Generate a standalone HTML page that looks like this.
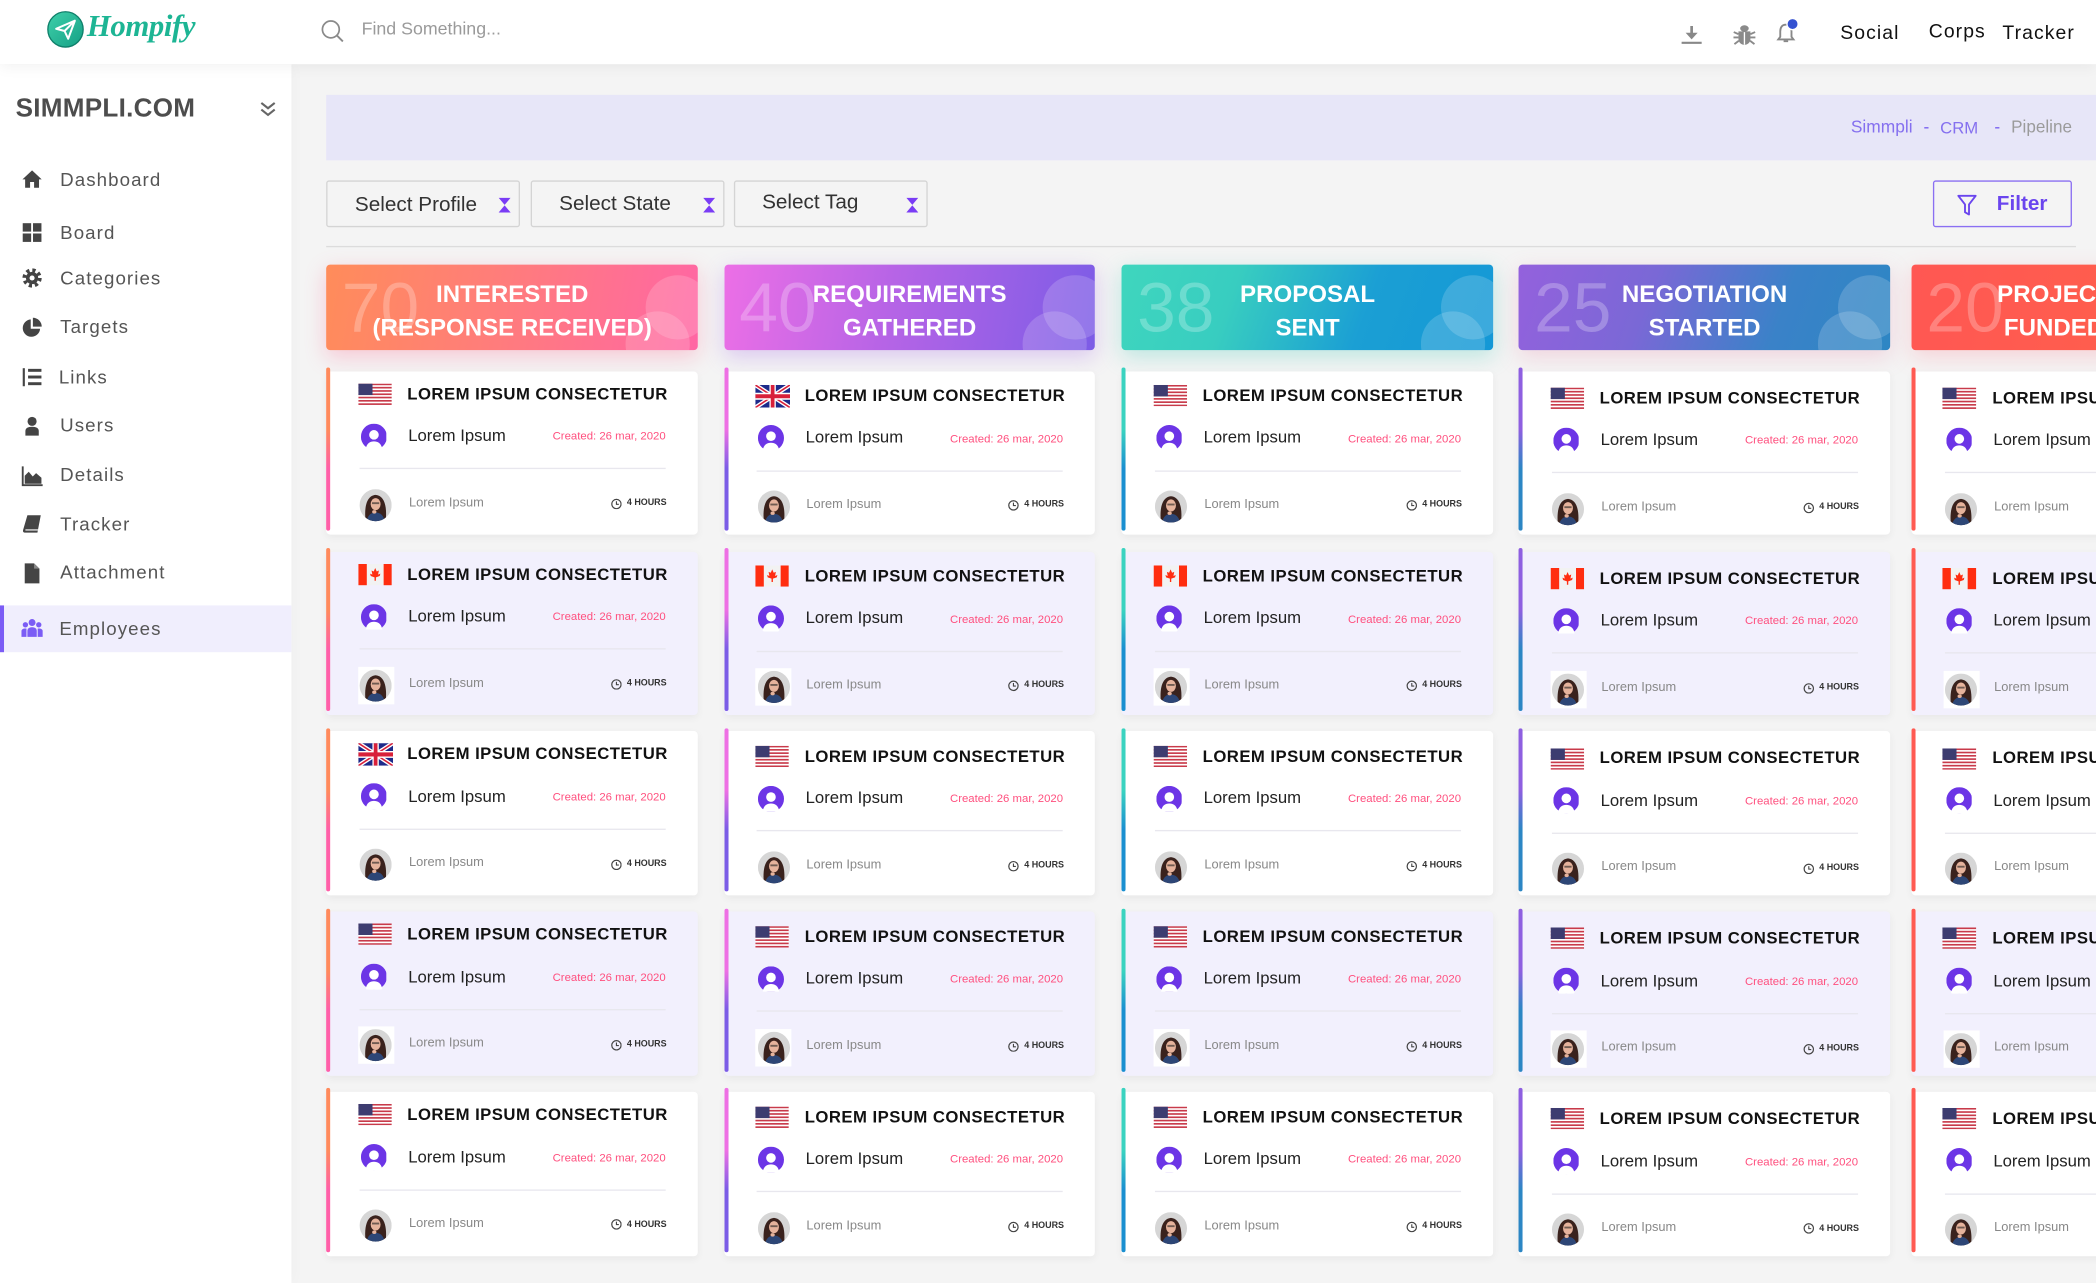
<!DOCTYPE html>
<html><head><meta charset="utf-8">
<style>
html,body{margin:0;padding:0;width:2096px;height:1283px;overflow:hidden;background:#f4f4f4}
#w{position:absolute;left:0;top:0;width:1568px;height:960px;transform:scale(1.336735,1.336458);transform-origin:0 0;overflow:hidden;font-family:"Liberation Sans",Arial,sans-serif;background:#f4f4f4}
.a{position:absolute}
#hd{position:absolute;left:0;top:0;width:1568px;height:48px;background:#fff;box-shadow:0 3px 10px rgba(0,0,0,.05);z-index:3}
#sb{position:absolute;left:0;top:48px;width:217.5px;height:912px;background:#fff;box-shadow:2px 0 10px rgba(0,0,0,.025)}
.mi{position:absolute;left:45px;font-size:14px;letter-spacing:.8px;color:#555;line-height:20px;white-space:nowrap}
.ic{position:absolute;left:16px;width:16px;height:16px}
.sel{position:absolute;top:135px;width:143px;height:33px;border:1px solid #d4d4d4;border-radius:2px}
.sel span{position:absolute;left:20.5px;font-size:15.5px;color:#333;line-height:20px;white-space:nowrap}
.sel svg{position:absolute;left:128px;top:12px;width:9px;height:11px}
.hc{position:absolute;top:198.3px;width:277.6px;height:64px;border-radius:3px;overflow:hidden}
.hc .num{position:absolute;left:11.3px;top:6.9px;font-size:52px;line-height:52px;color:rgba(255,255,255,.25);letter-spacing:0}
.hc .tt{position:absolute;left:0;right:0;top:9.4px;text-align:center;color:#fff;font-weight:bold;font-size:18px;line-height:25px;white-space:nowrap}
.hc i{position:absolute;border-radius:50%;background:rgba(255,255,255,.17)}
.hc .ca{left:238.2px;top:7.3px;width:48.8px;height:48.8px}
.hc .cb{left:223.2px;top:35px;width:48.4px;height:48.4px}
.cd{position:absolute;width:277.6px;height:122.7px;border-radius:3px;background:#fff;box-shadow:0 2px 6px rgba(0,0,0,.05)}
.cd.L{background:#f2f0fd}
.bd{position:absolute;left:0;top:-2.8px;width:3px;height:122.5px;border-radius:2px}
.in{position:absolute;left:0;top:0;width:100%;height:100%}
.c2 .in,.c3 .in{top:1.5px}
.c4 .in,.c5 .in{top:3px}
.fl{position:absolute;left:23.2px;top:9.2px;width:25.4px;height:16px}
.fl.uk{width:26px;height:17px;top:8.6px}
.t{position:absolute;left:60.3px;top:10px;line-height:14px;font-size:12.5px;font-weight:bold;letter-spacing:.35px;color:#111;white-space:nowrap}
.av{position:absolute;left:25.5px;top:39px;width:19.5px;height:19.5px}
.n{position:absolute;left:61px;top:41.4px;line-height:14px;font-size:12.5px;color:#222;white-space:nowrap}
.d{position:absolute;right:24px;top:43.6px;line-height:10px;font-size:8.5px;color:#ff4f7e;white-space:nowrap}
.hr{position:absolute;left:24.6px;right:24px;top:72.5px;height:1px;background:#e8e7ee}
.ph{position:absolute;left:23.5px;top:86px;width:27px;height:28px;background:#fff}
.ph svg{position:absolute;left:1.5px;top:2px;width:24px;height:24px}
.n2{position:absolute;left:61.6px;top:93px;line-height:12px;font-size:9.6px;color:#888;white-space:nowrap}
.h{position:absolute;right:23.3px;top:94.4px;line-height:10px;font-size:6.7px;font-weight:bold;color:#333;white-space:nowrap;display:flex;align-items:center}
.h svg{width:8.3px;height:8.3px;margin-right:3.6px}
.b1{background:linear-gradient(#ff8a5c 0%,#ff8a5c 38%,#ff5fa8 62%,#ff5fa8 100%)}
.b2{background:linear-gradient(#ee70e4 0%,#ee70e4 38%,#7b5ce6 62%,#7b5ce6 100%)}
.b3{background:linear-gradient(#3ad3c0 0%,#3ad3c0 38%,#1a8fd0 62%,#1a8fd0 100%)}
.b4{background:linear-gradient(#8e5fe0 0%,#8e5fe0 38%,#2c86c4 62%,#2c86c4 100%)}
.b5{background:#ff5a52}
</style></head><body>
<svg width="0" height="0" style="position:absolute">
<defs>
<clipPath id="cc"><circle cx="12" cy="12" r="12"/></clipPath>
<symbol id="us" viewBox="0 0 25 16" preserveAspectRatio="none">
<rect width="25" height="16" fill="#fff"/>
<g fill="#c83a4a"><rect y="0" width="25" height="1.23"/><rect y="2.46" width="25" height="1.23"/><rect y="4.92" width="25" height="1.23"/><rect y="7.38" width="25" height="1.23"/><rect y="9.84" width="25" height="1.23"/><rect y="12.3" width="25" height="1.23"/><rect y="14.77" width="25" height="1.23"/></g>
<rect width="10.5" height="8.6" fill="#3d3c70"/>
</symbol>
<symbol id="ca" viewBox="0 0 25 16" preserveAspectRatio="none">
<rect width="25" height="16" fill="#f2f2f2"/>
<rect width="6.3" height="16" fill="#ff2d10"/><rect x="18.7" width="6.3" height="16" fill="#ff2d10"/>
<path d="M12.5 3 L13.6 5.6 L15.2 4.9 L14.6 8 L16.3 7.2 L15.8 9 L13 10 L13 12.5 L12 12.5 L12 10 L9.2 9 L8.7 7.2 L10.4 8 L9.8 4.9 L11.4 5.6Z" fill="#ff2d10"/>
</symbol>
<symbol id="uk" viewBox="0 0 60 36" preserveAspectRatio="none">
<rect width="60" height="36" fill="#1d2a8a"/>
<path d="M0,0 L60,36 M60,0 L0,36" stroke="#fff" stroke-width="7"/>
<path d="M0,0 L60,36 M60,0 L0,36" stroke="#d8203a" stroke-width="2.6"/>
<path d="M30,0 V36 M0,18 H60" stroke="#fff" stroke-width="11"/>
<path d="M30,0 V36 M0,18 H60" stroke="#d8203a" stroke-width="6.5"/>
</symbol>
<symbol id="av" viewBox="0 0 20 20">
<circle cx="10" cy="10" r="10" fill="#6c35e6"/>
<circle cx="10" cy="8.6" r="3.7" fill="#fff"/>
<path d="M3.6 19.5 C4.5 15 7 13.6 10 13.6 C13 13.6 15.5 15 16.4 19.5 C14 21 6 21 3.6 19.5Z" fill="#fff"/>
</symbol>
<symbol id="ph" viewBox="0 0 24 24">
<g clip-path="url(#cc)">
<rect width="24" height="24" fill="#d6d6d6"/>
<path d="M4.5 24 C3.5 15 4.5 5 12 4.3 C19.5 5 20.5 15 19.5 24 Z" fill="#3a221d"/>
<ellipse cx="12" cy="11.2" rx="3.7" ry="4.5" fill="#e6b39c"/>
<rect x="9.3" y="9.8" width="5.4" height="1.4" fill="#222" opacity=".6"/>
<path d="M5 25 C6 19 9 17.5 12 17.5 C15 17.5 18 19 19 25 Z" fill="#2d4676"/>
<ellipse cx="11" cy="17" rx="1.6" ry="1.3" fill="#e6b39c"/>
</g>
</symbol>
<symbol id="ck" viewBox="0 0 10 10">
<circle cx="5" cy="5" r="4.2" fill="none" stroke="#444" stroke-width="1.1"/>
<path d="M5 2.5 V5.2 H7.2" fill="none" stroke="#444" stroke-width="1"/>
</symbol>
<symbol id="hg" viewBox="0 0 9 11">
<path d="M0 0 H9 L4.5 5.3Z M0 11 H9 L4.5 5.7Z" fill="#7a3cf5"/>
</symbol>
</defs>
</svg>
<div id="w">

<div id="sb"></div>

<!-- header -->
<div id="hd">
  <svg class="a" style="left:34.6px;top:7.5px" width="28" height="28" viewBox="0 0 28 28">
    <defs><linearGradient id="lg" x1="0" y1="0" x2="1" y2="1"><stop offset="0" stop-color="#3fd0aa"/><stop offset="1" stop-color="#15a085"/></linearGradient></defs>
    <circle cx="14" cy="14" r="13.2" fill="url(#lg)" stroke="#0f7f6a" stroke-width="1"/>
    <path d="M7 13.5 L21 7.5 L16 21 L13.3 15.2 Z M13.3 15.2 L21 7.5" fill="none" stroke="#fff" stroke-width="1.5" stroke-linejoin="round"/>
  </svg>
  <div class="a" style="left:65px;top:6px;font-family:'Liberation Serif',serif;font-style:italic;font-weight:bold;font-size:23px;line-height:28px;color:#1db594;letter-spacing:-.3px">Hompify</div>
  <svg class="a" style="left:239.5px;top:14.5px" width="18" height="17" viewBox="0 0 18 17"><circle cx="7.5" cy="7" r="6.3" fill="none" stroke="#8a8a8a" stroke-width="1.3"/><path d="M12 11.5 L16.5 16" stroke="#8a8a8a" stroke-width="1.4"/></svg>
  <div class="a" style="left:270.5px;top:12.5px;font-size:13.3px;line-height:18px;color:#9a9a9a;white-space:nowrap">Find Something...</div>

  <svg class="a" style="left:1256.5px;top:18.5px" width="17" height="14" viewBox="0 0 17 14"><path d="M8.5 0.5 V8" stroke="#888" stroke-width="2"/><path d="M4 5.5 H13 L8.5 10.5Z" fill="#888"/><path d="M1 13 H16" stroke="#888" stroke-width="1.6"/></svg>
  <svg class="a" style="left:1295.5px;top:17.5px" width="18" height="16" viewBox="0 0 18 16"><g fill="#8a8a8a"><ellipse cx="9" cy="3.3" rx="3.2" ry="2.4"/><path d="M4.5 5.5 H13.5 V11 C13.5 14 11 15.6 9 15.6 C7 15.6 4.5 14 4.5 11Z"/></g><path d="M1 6 L4.5 7.5 M17 6 L13.5 7.5 M0.8 10 H4.5 M17.2 10 H13.5 M1.5 15 L4.8 12.5 M16.5 15 L13.2 12.5" stroke="#8a8a8a" stroke-width="1.4"/><path d="M9 6 V15.5" stroke="#fff" stroke-width="1"/></svg>
  <svg class="a" style="left:1327.5px;top:13px" width="20" height="20" viewBox="0 0 20 20"><path d="M8 5.5 C4.8 5.5 3.8 8 3.8 10.5 V14.5 L2.3 16.5 H13.7 L12.2 14.5 V10.5 C12.2 8 11.2 5.5 8 5.5Z" fill="none" stroke="#888" stroke-width="1.4"/><path d="M6.3 17.8 H9.7" stroke="#888" stroke-width="1.4"/><circle cx="13" cy="5" r="4.2" fill="#3552d1" stroke="#fff" stroke-width="1"/></svg>

  <div class="a" style="left:1376.7px;top:15px;font-size:14.5px;line-height:20px;letter-spacing:.8px;color:#111">Social</div>
  <div class="a" style="left:1442.9px;top:13.7px;font-size:14.5px;line-height:20px;letter-spacing:.8px;color:#111">Corps</div>
  <div class="a" style="left:1498px;top:15px;font-size:14.5px;line-height:20px;letter-spacing:.8px;color:#111">Tracker</div>
</div>

<!-- sidebar content -->
<div class="a" style="left:11.7px;top:70px;font-size:19.5px;line-height:23px;font-weight:bold;color:#4d4d4d;letter-spacing:.2px">SIMMPLI.COM</div>
<svg class="a" style="left:193.5px;top:75.5px" width="13" height="12" viewBox="0 0 13 12"><path d="M1.5 1 L6.5 5 L11.5 1 M1.5 6 L6.5 10 L11.5 6" fill="none" stroke="#666" stroke-width="1.6"/></svg>

<svg class="ic" style="top:126px" viewBox="0 0 16 16"><path d="M8 1.5 L0.8 8.2 H2.8 V14.5 H6.5 V10.2 H9.5 V14.5 H13.2 V8.2 H15.2 Z" fill="#444"/></svg>
<div class="mi" style="top:124px">Dashboard</div>
<svg class="ic" style="top:166px" viewBox="0 0 16 16"><g fill="#444"><rect x="1" y="1" width="6.3" height="6.3"/><rect x="8.7" y="1" width="6.3" height="6.3"/><rect x="1" y="8.7" width="6.3" height="6.3"/><rect x="8.7" y="8.7" width="6.3" height="6.3"/></g></svg>
<div class="mi" style="top:163.5px">Board</div>
<svg class="ic" style="top:199.5px" viewBox="0 0 16 16"><circle cx="8" cy="8" r="5.6" fill="none" stroke="#444" stroke-width="3.2" stroke-dasharray="2.3 2.1"/><circle cx="8" cy="8" r="4.6" fill="#444"/><circle cx="8" cy="8" r="1.9" fill="#fff"/></svg>
<div class="mi" style="top:197.5px">Categories</div>
<svg class="ic" style="top:236.5px" viewBox="0 0 16 16"><path d="M7 2 A6.5 6.5 0 1 0 14 9 H7 Z" fill="#444"/><path d="M8.6 0.8 A6.5 6.5 0 0 1 15.2 7.4 H8.6 Z" fill="#444"/></svg>
<div class="mi" style="top:234.4px">Targets</div>
<svg class="ic" style="top:274px" viewBox="0 0 16 16"><g fill="#444"><rect x="5" y="2" width="10" height="2.2"/><rect x="5" y="7" width="10" height="2.2"/><rect x="5" y="12" width="10" height="2.2"/><rect x="1" y="1.5" width="1.6" height="13.5"/></g></svg>
<div class="mi" style="top:271.8px;left:44px">Links</div>
<svg class="ic" style="top:310.5px" viewBox="0 0 16 16"><g fill="#444"><circle cx="8" cy="4.3" r="3.4"/><path d="M3 15 V11.5 C3 9.3 5 8.3 8 8.3 C11 8.3 13 9.3 13 11.5 V15Z"/></g></svg>
<div class="mi" style="top:308.4px">Users</div>
<svg class="ic" style="top:347.5px" viewBox="0 0 16 16"><path d="M1 1 V15 H16" fill="none" stroke="#444" stroke-width="1.4"/><path d="M2.5 14 V8 L5.5 5 L8.5 8.5 L11 6 L15 9.5 V14Z" fill="#444"/></svg>
<div class="mi" style="top:345.4px">Details</div>
<svg class="ic" style="top:383.5px" viewBox="0 0 16 16"><path d="M4.5 1.5 H14.5 L12 14.5 H2.5 C1.3 14.5 1 13.5 1.3 12.5Z" fill="#444"/><path d="M3 12.5 H12.5" stroke="#ddd" stroke-width="1"/></svg>
<div class="mi" style="top:381.5px">Tracker</div>
<svg class="ic" style="top:420.5px" viewBox="0 0 16 16"><path d="M2.5 0.5 H9.5 L13.5 4.5 V15.5 H2.5Z" fill="#444"/><path d="M9.5 0.5 V4.5 H13.5" fill="#888"/></svg>
<div class="mi" style="top:418.4px">Attachment</div>
<div class="a" style="left:0;top:452.6px;width:217.5px;height:35.7px;background:#f0eefd"></div>
<div class="a" style="left:0;top:452.6px;width:3px;height:35.7px;background:#7b5cf5"></div>
<svg class="ic" style="top:461.5px" viewBox="0 0 16 14"><g fill="#7b5cf5"><circle cx="8" cy="2.8" r="2.6"/><circle cx="3" cy="4.5" r="2"/><circle cx="13" cy="4.5" r="2"/><path d="M4.5 13.5 V9 C4.5 7.2 6 6.3 8 6.3 C10 6.3 11.5 7.2 11.5 9 V13.5Z"/><path d="M0 13.5 V9.5 C0 8 1.2 7.3 3 7.3 C3.6 7.3 3.8 7.4 3.8 7.4 V13.5Z"/><path d="M16 13.5 V9.5 C16 8 14.8 7.3 13 7.3 C12.4 7.3 12.2 7.4 12.2 7.4 V13.5Z"/></g></svg>
<div class="mi" style="top:459.6px;left:44.4px">Employees</div>

<!-- breadcrumb -->
<div class="a" style="left:244px;top:71px;width:1324px;height:49px;background:#e7e6f8"></div>
<div class="a" style="left:1384.6px;top:86.8px;font-size:13px;line-height:16px;color:#8570ef;white-space:nowrap">Simmpli</div>
<div class="a" style="left:1439px;top:86.8px;font-size:13px;line-height:16px;color:#7a62ef">-</div>
<div class="a" style="left:1451.4px;top:88px;font-size:12.5px;line-height:16px;color:#8570ef">CRM</div>
<div class="a" style="left:1492px;top:86.8px;font-size:13px;line-height:16px;color:#7a62ef">-</div>
<div class="a" style="left:1504.5px;top:87px;font-size:12.8px;line-height:16px;color:#9b9b9b">Pipeline</div>

<!-- selects -->
<div class="sel" style="left:244px"><span style="top:7.5px">Select Profile</span><svg><use href="#hg"/></svg></div>
<div class="sel" style="left:396.8px"><span style="top:7px">Select State</span><svg><use href="#hg"/></svg></div>
<div class="sel" style="left:548.6px"><span style="top:5.5px">Select Tag</span><svg><use href="#hg"/></svg></div>

<div class="a" style="left:1446.3px;top:135.2px;width:102px;height:33px;border:1px solid #8a6ff2;border-radius:2px"></div>
<svg class="a" style="left:1463.5px;top:144.5px" width="15" height="17" viewBox="0 0 15 17"><path d="M1 1.5 H14 L9 8 V15.5 L6 13.8 V8 Z" fill="none" stroke="#6a45ee" stroke-width="1.4" stroke-linejoin="round"/></svg>
<div class="a" style="left:1493.8px;top:142.6px;font-size:15.5px;line-height:20px;font-weight:bold;color:#6a45ee">Filter</div>

<div class="a" style="left:244px;top:184px;width:1309px;height:1px;background:#dcdcdc"></div>

<!-- column headers -->
<div class="hc" style="left:244.4px;background:linear-gradient(100deg,#ff8c5a 0%,#ff7d7a 45%,#ff66a4 100%);box-shadow:0 5px 16px rgba(255,110,150,.33)"><span class="num">70</span><div class="tt">INTERESTED<br>(RESPONSE RECEIVED)</div><i class="ca"></i><i class="cb"></i></div>
<div class="hc" style="left:541.7px;background:linear-gradient(100deg,#ec6fe6 0%,#b664e6 45%,#7c5ce6 100%);box-shadow:0 5px 16px rgba(160,95,230,.3)"><span class="num">40</span><div class="tt">REQUIREMENTS<br>GATHERED</div><i class="ca"></i><i class="cb"></i></div>
<div class="hc" style="left:839.4px;background:linear-gradient(110deg,#3fd6be 0%,#38cdc0 30%,#1b9fd4 65%,#1498d6 100%);box-shadow:0 5px 16px rgba(60,200,180,.3)"><span class="num">38</span><div class="tt">PROPOSAL<br>SENT</div><i class="ca"></i><i class="cb"></i></div>
<div class="hc" style="left:1136.4px;background:linear-gradient(110deg,#9461dd 0%,#7a68d6 35%,#3a82c8 70%,#2d86c4 100%);box-shadow:0 5px 16px rgba(230,120,160,.25)"><span class="num">25</span><div class="tt">NEGOTIATION<br>STARTED</div><i class="ca"></i><i class="cb"></i></div>
<div class="hc" style="left:1429.8px;background:linear-gradient(100deg,#ff5753 0%,#ff5d4e 50%,#ff6a45 100%);box-shadow:0 5px 16px rgba(255,110,130,.25)"><span class="num">20</span><div class="tt" style="right:64px">PROJECT<br>FUNDED</div><i class="ca"></i><i class="cb"></i></div>

<!-- column 1 -->
<div class="cd c1" style="left:244.4px;top:277.6px"><i class="bd b1"></i><div class="in"><svg class="fl"><use href="#us"/></svg><b class="t">LOREM IPSUM CONSECTETUR</b><svg class="av"><use href="#av"/></svg><span class="n">Lorem Ipsum</span><span class="d">Created: 26 mar, 2020</span><i class="hr"></i><span class="ph"><svg><use href="#ph"/></svg></span><span class="n2">Lorem Ipsum</span><span class="h"><svg><use href="#ck"/></svg>4 HOURS</span></div></div>
<div class="cd c1 L" style="left:244.4px;top:412.5px"><i class="bd b1"></i><div class="in"><svg class="fl"><use href="#ca"/></svg><b class="t">LOREM IPSUM CONSECTETUR</b><svg class="av"><use href="#av"/></svg><span class="n">Lorem Ipsum</span><span class="d">Created: 26 mar, 2020</span><i class="hr"></i><span class="ph"><svg><use href="#ph"/></svg></span><span class="n2">Lorem Ipsum</span><span class="h"><svg><use href="#ck"/></svg>4 HOURS</span></div></div>
<div class="cd c1" style="left:244.4px;top:547.4px"><i class="bd b1"></i><div class="in"><svg class="fl uk"><use href="#uk"/></svg><b class="t">LOREM IPSUM CONSECTETUR</b><svg class="av"><use href="#av"/></svg><span class="n">Lorem Ipsum</span><span class="d">Created: 26 mar, 2020</span><i class="hr"></i><span class="ph"><svg><use href="#ph"/></svg></span><span class="n2">Lorem Ipsum</span><span class="h"><svg><use href="#ck"/></svg>4 HOURS</span></div></div>
<div class="cd c1 L" style="left:244.4px;top:682.3px"><i class="bd b1"></i><div class="in"><svg class="fl"><use href="#us"/></svg><b class="t">LOREM IPSUM CONSECTETUR</b><svg class="av"><use href="#av"/></svg><span class="n">Lorem Ipsum</span><span class="d">Created: 26 mar, 2020</span><i class="hr"></i><span class="ph"><svg><use href="#ph"/></svg></span><span class="n2">Lorem Ipsum</span><span class="h"><svg><use href="#ck"/></svg>4 HOURS</span></div></div>
<div class="cd c1" style="left:244.4px;top:817.2px"><i class="bd b1"></i><div class="in"><svg class="fl"><use href="#us"/></svg><b class="t">LOREM IPSUM CONSECTETUR</b><svg class="av"><use href="#av"/></svg><span class="n">Lorem Ipsum</span><span class="d">Created: 26 mar, 2020</span><i class="hr"></i><span class="ph"><svg><use href="#ph"/></svg></span><span class="n2">Lorem Ipsum</span><span class="h"><svg><use href="#ck"/></svg>4 HOURS</span></div></div>

<!-- column 2 -->
<div class="cd c2" style="left:541.7px;top:277.6px"><i class="bd b2"></i><div class="in"><svg class="fl uk"><use href="#uk"/></svg><b class="t">LOREM IPSUM CONSECTETUR</b><svg class="av"><use href="#av"/></svg><span class="n">Lorem Ipsum</span><span class="d">Created: 26 mar, 2020</span><i class="hr"></i><span class="ph"><svg><use href="#ph"/></svg></span><span class="n2">Lorem Ipsum</span><span class="h"><svg><use href="#ck"/></svg>4 HOURS</span></div></div>
<div class="cd c2 L" style="left:541.7px;top:412.5px"><i class="bd b2"></i><div class="in"><svg class="fl"><use href="#ca"/></svg><b class="t">LOREM IPSUM CONSECTETUR</b><svg class="av"><use href="#av"/></svg><span class="n">Lorem Ipsum</span><span class="d">Created: 26 mar, 2020</span><i class="hr"></i><span class="ph"><svg><use href="#ph"/></svg></span><span class="n2">Lorem Ipsum</span><span class="h"><svg><use href="#ck"/></svg>4 HOURS</span></div></div>
<div class="cd c2" style="left:541.7px;top:547.4px"><i class="bd b2"></i><div class="in"><svg class="fl"><use href="#us"/></svg><b class="t">LOREM IPSUM CONSECTETUR</b><svg class="av"><use href="#av"/></svg><span class="n">Lorem Ipsum</span><span class="d">Created: 26 mar, 2020</span><i class="hr"></i><span class="ph"><svg><use href="#ph"/></svg></span><span class="n2">Lorem Ipsum</span><span class="h"><svg><use href="#ck"/></svg>4 HOURS</span></div></div>
<div class="cd c2 L" style="left:541.7px;top:682.3px"><i class="bd b2"></i><div class="in"><svg class="fl"><use href="#us"/></svg><b class="t">LOREM IPSUM CONSECTETUR</b><svg class="av"><use href="#av"/></svg><span class="n">Lorem Ipsum</span><span class="d">Created: 26 mar, 2020</span><i class="hr"></i><span class="ph"><svg><use href="#ph"/></svg></span><span class="n2">Lorem Ipsum</span><span class="h"><svg><use href="#ck"/></svg>4 HOURS</span></div></div>
<div class="cd c2" style="left:541.7px;top:817.2px"><i class="bd b2"></i><div class="in"><svg class="fl"><use href="#us"/></svg><b class="t">LOREM IPSUM CONSECTETUR</b><svg class="av"><use href="#av"/></svg><span class="n">Lorem Ipsum</span><span class="d">Created: 26 mar, 2020</span><i class="hr"></i><span class="ph"><svg><use href="#ph"/></svg></span><span class="n2">Lorem Ipsum</span><span class="h"><svg><use href="#ck"/></svg>4 HOURS</span></div></div>

<!-- column 3 -->
<div class="cd c3" style="left:839.4px;top:277.6px"><i class="bd b3"></i><div class="in"><svg class="fl"><use href="#us"/></svg><b class="t">LOREM IPSUM CONSECTETUR</b><svg class="av"><use href="#av"/></svg><span class="n">Lorem Ipsum</span><span class="d">Created: 26 mar, 2020</span><i class="hr"></i><span class="ph"><svg><use href="#ph"/></svg></span><span class="n2">Lorem Ipsum</span><span class="h"><svg><use href="#ck"/></svg>4 HOURS</span></div></div>
<div class="cd c3 L" style="left:839.4px;top:412.5px"><i class="bd b3"></i><div class="in"><svg class="fl"><use href="#ca"/></svg><b class="t">LOREM IPSUM CONSECTETUR</b><svg class="av"><use href="#av"/></svg><span class="n">Lorem Ipsum</span><span class="d">Created: 26 mar, 2020</span><i class="hr"></i><span class="ph"><svg><use href="#ph"/></svg></span><span class="n2">Lorem Ipsum</span><span class="h"><svg><use href="#ck"/></svg>4 HOURS</span></div></div>
<div class="cd c3" style="left:839.4px;top:547.4px"><i class="bd b3"></i><div class="in"><svg class="fl"><use href="#us"/></svg><b class="t">LOREM IPSUM CONSECTETUR</b><svg class="av"><use href="#av"/></svg><span class="n">Lorem Ipsum</span><span class="d">Created: 26 mar, 2020</span><i class="hr"></i><span class="ph"><svg><use href="#ph"/></svg></span><span class="n2">Lorem Ipsum</span><span class="h"><svg><use href="#ck"/></svg>4 HOURS</span></div></div>
<div class="cd c3 L" style="left:839.4px;top:682.3px"><i class="bd b3"></i><div class="in"><svg class="fl"><use href="#us"/></svg><b class="t">LOREM IPSUM CONSECTETUR</b><svg class="av"><use href="#av"/></svg><span class="n">Lorem Ipsum</span><span class="d">Created: 26 mar, 2020</span><i class="hr"></i><span class="ph"><svg><use href="#ph"/></svg></span><span class="n2">Lorem Ipsum</span><span class="h"><svg><use href="#ck"/></svg>4 HOURS</span></div></div>
<div class="cd c3" style="left:839.4px;top:817.2px"><i class="bd b3"></i><div class="in"><svg class="fl"><use href="#us"/></svg><b class="t">LOREM IPSUM CONSECTETUR</b><svg class="av"><use href="#av"/></svg><span class="n">Lorem Ipsum</span><span class="d">Created: 26 mar, 2020</span><i class="hr"></i><span class="ph"><svg><use href="#ph"/></svg></span><span class="n2">Lorem Ipsum</span><span class="h"><svg><use href="#ck"/></svg>4 HOURS</span></div></div>

<!-- column 4 -->
<div class="cd c4" style="left:1136.4px;top:277.6px"><i class="bd b4"></i><div class="in"><svg class="fl"><use href="#us"/></svg><b class="t">LOREM IPSUM CONSECTETUR</b><svg class="av"><use href="#av"/></svg><span class="n">Lorem Ipsum</span><span class="d">Created: 26 mar, 2020</span><i class="hr"></i><span class="ph"><svg><use href="#ph"/></svg></span><span class="n2">Lorem Ipsum</span><span class="h"><svg><use href="#ck"/></svg>4 HOURS</span></div></div>
<div class="cd c4 L" style="left:1136.4px;top:412.5px"><i class="bd b4"></i><div class="in"><svg class="fl"><use href="#ca"/></svg><b class="t">LOREM IPSUM CONSECTETUR</b><svg class="av"><use href="#av"/></svg><span class="n">Lorem Ipsum</span><span class="d">Created: 26 mar, 2020</span><i class="hr"></i><span class="ph"><svg><use href="#ph"/></svg></span><span class="n2">Lorem Ipsum</span><span class="h"><svg><use href="#ck"/></svg>4 HOURS</span></div></div>
<div class="cd c4" style="left:1136.4px;top:547.4px"><i class="bd b4"></i><div class="in"><svg class="fl"><use href="#us"/></svg><b class="t">LOREM IPSUM CONSECTETUR</b><svg class="av"><use href="#av"/></svg><span class="n">Lorem Ipsum</span><span class="d">Created: 26 mar, 2020</span><i class="hr"></i><span class="ph"><svg><use href="#ph"/></svg></span><span class="n2">Lorem Ipsum</span><span class="h"><svg><use href="#ck"/></svg>4 HOURS</span></div></div>
<div class="cd c4 L" style="left:1136.4px;top:682.3px"><i class="bd b4"></i><div class="in"><svg class="fl"><use href="#us"/></svg><b class="t">LOREM IPSUM CONSECTETUR</b><svg class="av"><use href="#av"/></svg><span class="n">Lorem Ipsum</span><span class="d">Created: 26 mar, 2020</span><i class="hr"></i><span class="ph"><svg><use href="#ph"/></svg></span><span class="n2">Lorem Ipsum</span><span class="h"><svg><use href="#ck"/></svg>4 HOURS</span></div></div>
<div class="cd c4" style="left:1136.4px;top:817.2px"><i class="bd b4"></i><div class="in"><svg class="fl"><use href="#us"/></svg><b class="t">LOREM IPSUM CONSECTETUR</b><svg class="av"><use href="#av"/></svg><span class="n">Lorem Ipsum</span><span class="d">Created: 26 mar, 2020</span><i class="hr"></i><span class="ph"><svg><use href="#ph"/></svg></span><span class="n2">Lorem Ipsum</span><span class="h"><svg><use href="#ck"/></svg>4 HOURS</span></div></div>

<!-- column 5 -->
<div class="cd c5" style="left:1430.2px;top:277.6px"><i class="bd b5"></i><div class="in"><svg class="fl"><use href="#us"/></svg><b class="t">LOREM IPSUM CONSECTETUR</b><svg class="av"><use href="#av"/></svg><span class="n">Lorem Ipsum</span><span class="d">Created: 26 mar, 2020</span><i class="hr"></i><span class="ph"><svg><use href="#ph"/></svg></span><span class="n2">Lorem Ipsum</span><span class="h"><svg><use href="#ck"/></svg>4 HOURS</span></div></div>
<div class="cd c5 L" style="left:1430.2px;top:412.5px"><i class="bd b5"></i><div class="in"><svg class="fl"><use href="#ca"/></svg><b class="t">LOREM IPSUM CONSECTETUR</b><svg class="av"><use href="#av"/></svg><span class="n">Lorem Ipsum</span><span class="d">Created: 26 mar, 2020</span><i class="hr"></i><span class="ph"><svg><use href="#ph"/></svg></span><span class="n2">Lorem Ipsum</span><span class="h"><svg><use href="#ck"/></svg>4 HOURS</span></div></div>
<div class="cd c5" style="left:1430.2px;top:547.4px"><i class="bd b5"></i><div class="in"><svg class="fl"><use href="#us"/></svg><b class="t">LOREM IPSUM CONSECTETUR</b><svg class="av"><use href="#av"/></svg><span class="n">Lorem Ipsum</span><span class="d">Created: 26 mar, 2020</span><i class="hr"></i><span class="ph"><svg><use href="#ph"/></svg></span><span class="n2">Lorem Ipsum</span><span class="h"><svg><use href="#ck"/></svg>4 HOURS</span></div></div>
<div class="cd c5 L" style="left:1430.2px;top:682.3px"><i class="bd b5"></i><div class="in"><svg class="fl"><use href="#us"/></svg><b class="t">LOREM IPSUM CONSECTETUR</b><svg class="av"><use href="#av"/></svg><span class="n">Lorem Ipsum</span><span class="d">Created: 26 mar, 2020</span><i class="hr"></i><span class="ph"><svg><use href="#ph"/></svg></span><span class="n2">Lorem Ipsum</span><span class="h"><svg><use href="#ck"/></svg>4 HOURS</span></div></div>
<div class="cd c5" style="left:1430.2px;top:817.2px"><i class="bd b5"></i><div class="in"><svg class="fl"><use href="#us"/></svg><b class="t">LOREM IPSUM CONSECTETUR</b><svg class="av"><use href="#av"/></svg><span class="n">Lorem Ipsum</span><span class="d">Created: 26 mar, 2020</span><i class="hr"></i><span class="ph"><svg><use href="#ph"/></svg></span><span class="n2">Lorem Ipsum</span><span class="h"><svg><use href="#ck"/></svg>4 HOURS</span></div></div>

</div>
</body></html>
